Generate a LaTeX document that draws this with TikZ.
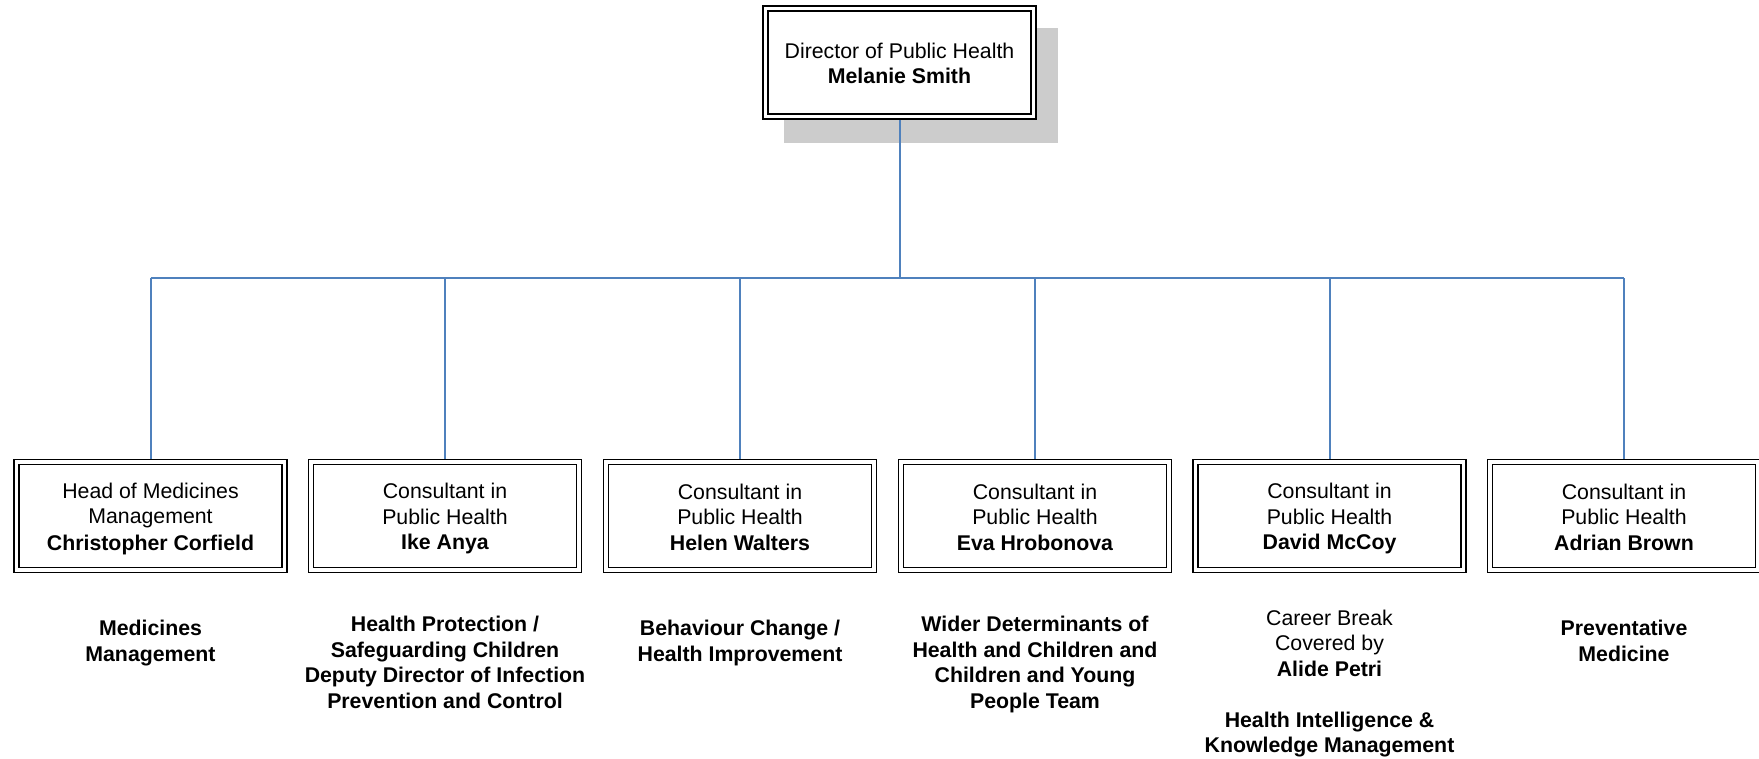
\documentclass[tikz,border=0pt]{standalone}
\usepackage{fontspec}
\setmainfont{Liberation Sans}
\usepackage{xcolor}

\definecolor{linkblue}{HTML}{4F81BD}
\definecolor{shadowgray}{HTML}{CCCCCC}
\newcommand{\linestrut}{\rule[-4.25pt]{0pt}{25.5pt}}

\tikzset{
    post/.style={draw, double, line width=1.5pt, double distance=3.5pt,
        minimum width=268pt, minimum height=108pt, align=center,
        inner sep=0pt, outer sep=3.25pt, fill=white,
        font=\fontsize{21.3}{25.5}\selectfont},
    remit/.style={anchor=north, align=center, inner sep=0pt,
        font=\bfseries\fontsize{21.3}{25.5}\selectfont},
    link/.style={linkblue, line width=2pt}
}

\begin{document}
\begin{tikzpicture}[x=1pt, y=-1pt]
            \useasboundingbox (0,0) rectangle (1759,758);

            % director with its shadow
            \fill[shadowgray] (784,28) rectangle (1058,143);
            \node[post] (dph) at (899.5,62.5) {\linestrut Director of Public Health\\\linestrut\textbf{Melanie Smith}};

            % second row
            \foreach \n/\x/\role/\who in {
                med/150.5/{Head of Medicines\\Management}/{Christopher Corfield},
                prot/445/{Consultant in\\Public Health}/{Ike Anya},
                behav/740/{Consultant in\\Public Health}/{Helen Walters},
                wider/1035/{Consultant in\\Public Health}/{Eva Hrobonova},
                intel/1329.5/{Consultant in\\Public Health}/{David McCoy},
                prev/1624/{Consultant in\\Public Health}/{Adrian Brown}}{
                \node[post] (\n) at (\x,516) {\linestrut\role\\\linestrut\textbf{\who}};
            }

            % remits under the boxes
            \node[remit] (medr) at (150.5,620) {Medicines\\Management};
            \node[remit] (protr) at (445,616) {Health Protection /\\Safeguarding Children\\Deputy Director of Infection\\Prevention and Control};
            \node[remit] (behavr) at (740,620) {Behaviour Change /\\Health Improvement};
            \node[remit] (widerr) at (1035,616) {Wider Determinants of\\Health and Children and\\Children and Young\\People Team};
            \node[remit] (intelr) at (1329.5,609.5) {\mdseries Career Break\\\mdseries Covered by\\Alide Petri\\[25.5pt]Health Intelligence \&\\Knowledge Management};
            \node[remit] (prevr) at (1624,620) {Preventative\\Medicine};

            % connectors
            \coordinate (bus) at (0,278);
            \draw[link] (dph.south) -- (dph.south |- bus);
            \draw[link] (med.north |- bus) -- (prev.north |- bus);
            \foreach \n in {med,prot,behav,wider,intel,prev}{
                \draw[link] (\n.north) -- (\n.north |- bus);
            }
        \end{tikzpicture}
\end{document}
